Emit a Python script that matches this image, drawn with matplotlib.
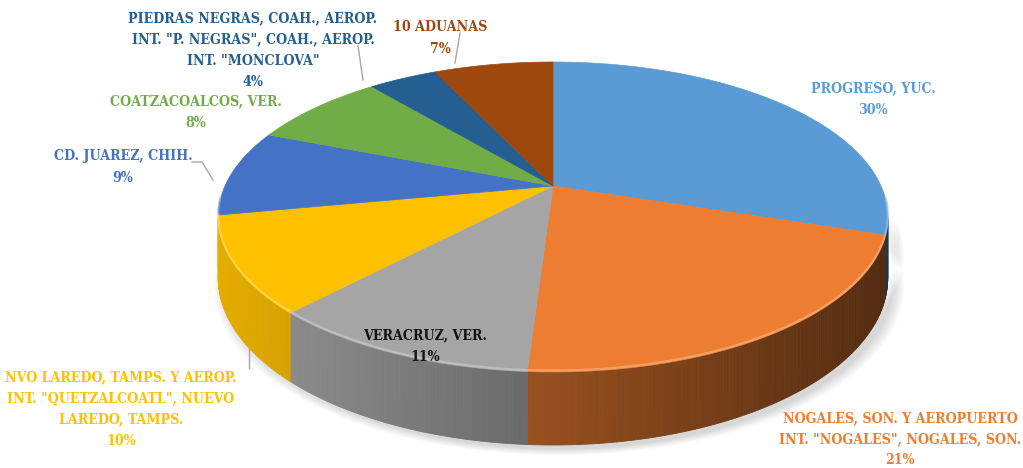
import numpy as np
import matplotlib
matplotlib.use("Agg")
import matplotlib.pyplot as plt
from matplotlib.patches import Polygon
from matplotlib.colors import to_rgb
from matplotlib import font_manager as fm

# ---------------- data ----------------
labels = [
    "PROGRESO, YUC.",
    "NOGALES, SON. Y AEROPUERTO\nINT. \"NOGALES\", NOGALES, SON.",
    "VERACRUZ, VER.",
    "NVO LAREDO, TAMPS. Y AEROP.\nINT. \"QUETZALCOATL\", NUEVO\nLAREDO, TAMPS.",
    "CD. JUAREZ, CHIH.",
    "COATZACOALCOS, VER.",
    "PIEDRAS NEGRAS, COAH., AEROP.\nINT. \"P. NEGRAS\", COAH., AEROP.\nINT. \"MONCLOVA\"",
    "10 ADUANAS",
]
values = [30, 21, 11, 10, 9, 8, 4, 7]
colors = ["#5B9BD5", "#ED7D31", "#A5A5A5", "#FFC000",
          "#4472C4", "#70AD47", "#255E91", "#9E480E"]
label_colors = ["#5B9BD5", "#ED7D31", "#111111", "#FFC000",
                "#4472C4", "#70AD47", "#255E91", "#9E480E"]
# label anchor positions (pixel space)
label_pos = [(873, 99), (900, 439), (425, 346), (121, 409),
             (123, 167), (196, 112), (253, 50), (440, 38)]

# ---------------- figure ----------------
fig = plt.figure(figsize=(10.23, 4.68), dpi=100)
ax = fig.add_axes([0, 0, 1, 1])
ax.set_xlim(0, 1023)
ax.set_ylim(468, 0)
ax.axis("off")

CX, CY, A, B, K, T = 553, 186, 328, 148.8, 0.2, 58.4


def proj(theta_deg, depth=0.0):
    th = np.radians(theta_deg)
    u, v = np.cos(th), np.sin(th)
    s = 1.0 / (1.0 + K * v)
    return CX + A * u * s, CY - B * v * s + depth * T * s


total = float(sum(values))
cum = np.concatenate([[0], np.cumsum(values)]) / total
t_start = 90 - 360 * cum[:-1]
t_end = 90 - 360 * cum[1:]

# soft shadow
full = np.linspace(-180, 0, 200)
for i, grow in enumerate(np.linspace(10, 0, 8)):
    xs, ys = proj(full, 1.0)
    xs = CX + (xs - CX) * (1 + grow / 330) + 6
    ys = ys + grow * 0.6 + 4
    poly = np.column_stack([np.concatenate([xs, xs[::-1]]),
                            np.concatenate([ys, proj(full[::-1], 0.6)[1]])])
    ax.add_patch(Polygon(poly, closed=True, facecolor="black", alpha=0.02,
                         edgecolor="none", zorder=1))

# side walls
FRONT_LO, FRONT_HI = -168.5, -11.5
xmin_, xmax_ = proj(FRONT_LO)[0], proj(FRONT_HI)[0]
for i in range(len(values)):
    a = max(t_end[i], FRONT_LO)
    b = min(t_start[i], FRONT_HI)
    if a >= b:
        continue
    ths = np.linspace(a, b, max(4, int((b - a) * 2)))
    base = np.array(to_rgb(colors[i]))
    for j in range(len(ths) - 1):
        t0, t1 = ths[j], ths[j + 1]
        x0, y0 = proj(t0)
        x1, y1 = proj(t1)
        x0b, y0b = proj(t0, 1.0)
        x1b, y1b = proj(t1, 1.0)
        tt = ((x0 + x1) / 2 - xmin_) / (xmax_ - xmin_)
        f = 0.9 - 0.55 * tt
        c = np.clip(base * f, 0, 1)
        ax.add_patch(Polygon([(x0, y0), (x1, y1), (x1b, y1b), (x0b, y0b)],
                             closed=True, facecolor=c, edgecolor=c,
                             linewidth=0.6, zorder=2))

# top faces
for i in range(len(values)):
    ths = np.linspace(t_start[i], t_end[i], 120)
    xs, ys = proj(ths)
    pts = [(CX, CY)] + list(zip(xs, ys))
    ax.add_patch(Polygon(pts, closed=True, facecolor=colors[i],
                         edgecolor=colors[i], linewidth=0.5, zorder=3))
    # bevel highlight along the front rim
    a = max(t_end[i], -175)
    b = min(t_start[i], -5)
    if a < b:
        th2 = np.linspace(a, b, 80)
        hx, hy = proj(th2)
        hc = np.clip(np.array(to_rgb(colors[i])) * 0.6 + 0.4, 0, 1)
        ax.plot(hx, hy - 1.5, color=hc, lw=1.6, alpha=0.7, zorder=4,
                solid_capstyle="butt")

# labels: prefer a condensed bold serif if one is installed
cond = None
for f in fm.fontManager.ttflist:
    if "DejaVu Serif" in f.name and "ondensed" in f.fname and "Bold" in f.fname \
            and "Italic" not in f.fname and "Oblique" not in f.fname:
        cond = f.fname
        break


def make_prop(size):
    if cond:
        return fm.FontProperties(fname=cond, size=size)
    return fm.FontProperties(family=["Liberation Serif", "DejaVu Serif"],
                             weight="bold", size=size)


# fit font size so the widest Nogales line is ~243 px wide, as in the reference
renderer = fig.canvas.get_renderer()
probe = ax.text(0, 0, "INT. \"NOGALES\", NOGALES, SON.", fontproperties=make_prop(10))
w10 = probe.get_window_extent(renderer).width
probe.remove()
size = 10 * 243.0 / w10
fprop = make_prop(size)
size_px = size * 100 / 72.0
lsp = 20.8 / (0.89 * size_px)

for i in range(len(values)):
    x, y = label_pos[i]
    ax.text(x, y, f"{labels[i]}\n{values[i]}%", color=label_colors[i],
            fontproperties=fprop, ha="center", va="center",
            linespacing=lsp, zorder=6)

# leader lines
lc = "#A6A6A6"
ax.plot([192, 202, 213], [162, 162, 180], color=lc, lw=1, zorder=5)
ax.plot([358, 363], [46, 80], color=lc, lw=1, zorder=5)
ax.plot([460, 455], [33, 63], color=lc, lw=1, zorder=5)
ax.plot([249, 249], [347, 368], color=lc, lw=1, zorder=5)

fig.savefig("out.png", dpi=100, facecolor="white")
